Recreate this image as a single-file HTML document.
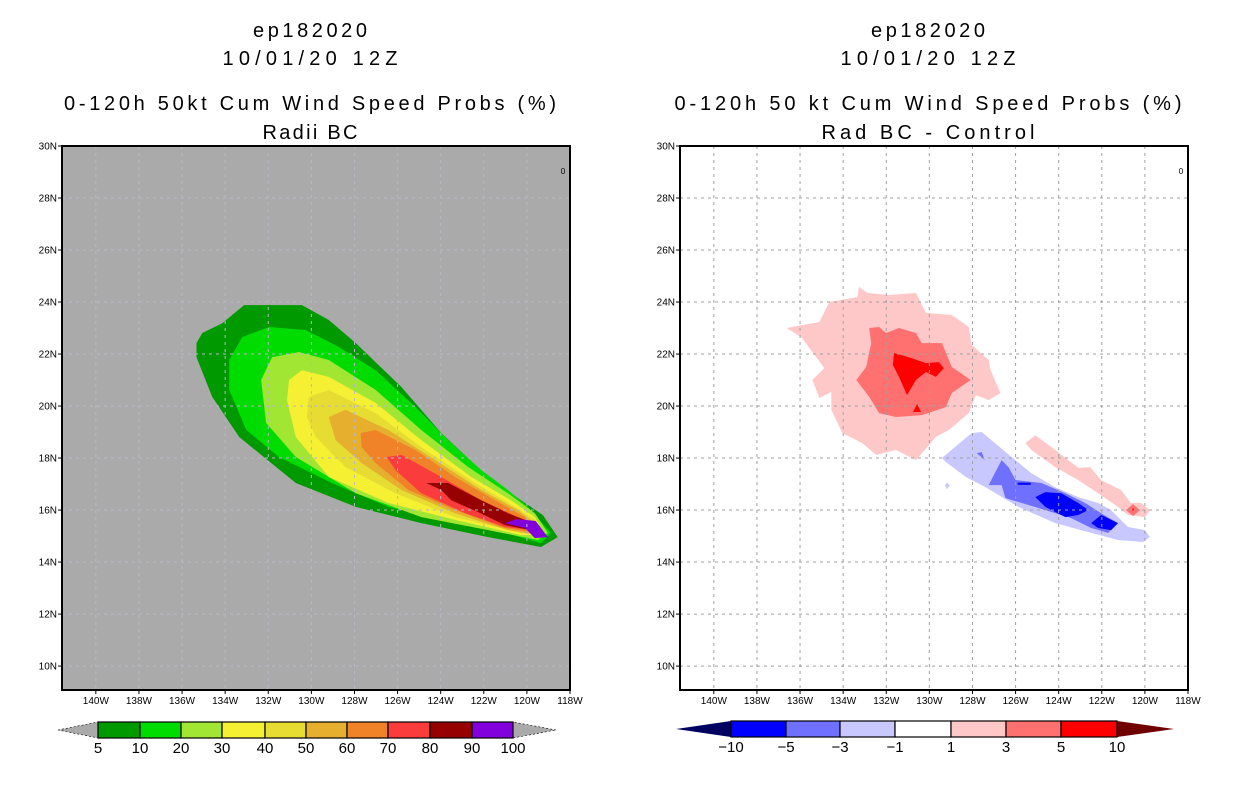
<!DOCTYPE html>
<html><head><meta charset="utf-8"><style>
body{margin:0;background:#fff;width:1236px;height:800px;overflow:hidden}
svg{font-family:"Liberation Sans",sans-serif}
</style></head><body>
<svg id="s" width="1236" height="800" xmlns="http://www.w3.org/2000/svg"></svg>
<script>
const NS="http://www.w3.org/2000/svg";
const svg=document.getElementById('s');
// axis domain
const lonWest=141.57, lonEast=118, latTop=30, latBot=9.08;
const latTicks=[30,28,26,24,22,20,18,16,14,12,10];
const lonTicks=[140,138,136,134,132,130,128,126,124,122,120,118];
// left panel: probability contours (levels 5..90), polygons as [lonW,lat]
const probLevels=[5,10,20,30,40,50,60,70,80,90,100];
const probColors=["#009a00","#00dc00","#a0e632","#f5f032","#e6dc32","#e6af2d","#f08228","#fa3c3c","#960000","#8200dc"];
const prob5=[[135.33,22.42],[135.06,22.81],[134.13,23.19],[133.12,23.88],[130.44,23.88],[129.19,23.31],[127.94,22.42],[125.82,20.73],[123.97,18.96],[121.8,17.27],[120.28,16.38],[119.26,15.81],[118.57,14.96],[119.35,14.58],[121.8,14.96],[124.9,15.5],[127.94,16.12],[130.72,17.04],[133.35,18.81],[134.6,20.35],[135.33,21.88]];
const prob10=[[133.81,21.77],[133.21,22.65],[131.96,23.04],[130.25,22.92],[128.73,22.27],[127.02,21.38],[125.17,19.96],[123.65,18.69],[122.12,17.54],[120.88,16.77],[119.95,16.12],[118.89,15.12],[119.35,14.73],[121.02,15.12],[123.33,15.5],[126.42,16.12],[129.05,17.04],[131.5,18.04],[133.02,19.08],[133.81,20.62]];
const prob20=[[132.33,21.0],[131.82,21.88],[130.58,22.08],[129.19,21.77],[127.02,20.62],[124.9,19.08],[122.72,17.65],[120.88,16.65],[119.63,15.88],[119.03,15.12],[119.49,14.85],[121.8,15.23],[124.9,15.73],[127.94,16.65],[130.72,18.04],[132.1,19.35]];
const prob30=[[131.04,21.0],[130.44,21.38],[129.19,21.12],[127.02,20.12],[124.9,18.69],[122.58,17.27],[120.74,16.38],[119.63,15.73],[119.17,15.04],[120.28,15.04],[123.33,15.62],[126.42,16.27],[129.19,17.27],[130.72,18.81],[131.13,20.23]];
const prob40=[[130.12,20.35],[129.19,20.62],[127.02,19.73],[124.9,18.42],[122.4,17.04],[120.55,16.12],[119.63,15.62],[119.35,15.04],[120.28,15.12],[123.33,15.73],[126.1,16.65],[128.41,17.65],[129.79,18.81],[130.21,19.58]];
const prob50=[[129.19,19.58],[128.41,19.85],[126.42,19.08],[124.25,17.92],[122.12,16.77],[120.42,16.0],[119.63,15.5],[119.49,15.04],[120.88,15.23],[123.33,15.88],[125.82,16.77],[127.67,17.81],[128.87,18.69]];
const prob60=[[127.71,18.96],[127.02,19.08],[125.17,18.31],[123.33,17.27],[121.48,16.38],[120.09,15.73],[119.63,15.12],[121.02,15.31],[123.33,16.0],[125.5,16.77],[127.02,17.81],[127.67,18.42]];
const prob70=[[126.51,18.04],[125.82,18.12],[123.97,17.27],[122.12,16.38],[120.42,15.73],[119.82,15.23],[121.02,15.35],[122.86,15.88],[124.9,16.65],[126.1,17.54]];
const prob80=[[124.67,17.04],[123.65,17.04],[122.12,16.38],[120.88,15.88],[120.09,15.62],[119.82,15.23],[121.02,15.42],[122.26,15.92],[123.51,16.38],[123.97,16.77]];
const prob90=[[120.09,15.62],[119.59,15.58],[119.03,14.96],[119.63,14.92],[120.09,15.31],[121.02,15.5],[120.51,15.65]];
const probPolys=[prob5,prob10,prob20,prob30,prob40,prob50,prob60,prob70,prob80,prob90];
// right panel: difference contours
const diffLevels=["-10","-5","-3","-1","1","3","5","10"];
const diffColors=["#0000ff","#7070ff","#c8c8ff","#ffffff","#ffc8c8","#ff7070","#ff0000"];
const diffPink1=[[136.63,23.0],[135.1,23.23],[134.64,24.0],[133.35,24.19],[133.26,24.58],[132.89,24.35],[131.87,24.27],[130.62,24.35],[130.16,23.58],[128.96,23.5],[128.17,23.04],[128.04,22.35],[127.25,21.77],[127.16,21.38],[126.7,20.5],[127.25,20.23],[127.85,20.42],[128.17,19.73],[129.1,19.08],[129.7,18.81],[130.62,17.92],[131.55,18.31],[132.47,18.12],[133.12,18.58],[134.04,18.96],[134.55,19.85],[134.55,20.54],[135.1,20.31],[135.43,21.0],[134.87,21.46],[135.94,22.65]];
const diffPink2=[[125.54,18.58],[125.08,18.88],[124.16,18.31],[123.09,17.62],[122.54,17.65],[122.03,17.15],[121.11,16.77],[120.65,16.27],[120.18,16.27],[119.77,16.0],[120.0,15.73],[120.79,15.81],[121.25,16.12],[122.17,16.65],[123.09,17.15],[124.16,17.65],[125.27,18.31]];
const diffRed1=[[132.79,23.0],[132.33,23.04],[132.01,22.81],[131.41,23.0],[130.62,22.81],[130.35,22.42],[129.42,22.42],[128.96,21.5],[128.08,21.0],[128.96,20.5],[129.24,19.96],[130.35,19.65],[131.55,19.58],[132.33,19.73],[132.79,20.35],[133.39,21.0],[132.93,21.5],[132.7,22.42]];
const diffRed2=[[120.88,16.0],[120.55,16.23],[120.23,16.0],[120.55,15.77]];
const diffBright1=[[131.64,22.04],[130.95,21.88],[130.16,21.65],[129.56,21.69],[129.33,21.46],[129.7,21.12],[130.16,21.31],[130.62,21.0],[131.04,20.42],[131.41,21.12],[131.69,21.58]];
const diffBright2=[[130.57,20.08],[130.39,19.77],[130.76,19.77]];
const diffBright3=[[120.6,16.05],[120.5,16.05],[120.55,15.95]];
const diffBlue1=[[129.42,18.0],[128.04,18.96],[127.57,19.0],[126.19,18.04],[125.27,17.42],[124.16,16.88],[123.09,16.5],[122.17,16.27],[121.57,16.0],[120.79,15.35],[120.0,15.23],[119.77,14.96],[120.09,14.77],[121.25,14.85],[122.49,15.12],[124.16,15.5],[125.87,16.12],[127.39,16.88],[128.31,17.27],[129.24,17.85]];
const diffBlue1b=[[129.18,17.05],[129.05,16.95],[129.18,16.8],[129.28,16.95]];
const diffBlue2=[[127.25,16.96],[126.65,17.92],[126.33,17.65],[126.0,17.15],[124.8,17.04],[123.69,16.65],[122.77,16.27],[122.03,15.88],[121.25,15.5],[121.71,15.12],[122.49,15.31],[123.42,15.69],[124.94,16.08],[126.47,16.46],[126.65,16.96]];
const diffBlue2b=[[127.8,18.19],[127.57,18.23],[127.43,17.92]];
const diffBlue3a=[[125.08,16.5],[124.62,16.69],[123.88,16.65],[123.09,16.27],[122.63,16.0],[123.09,15.81],[123.69,15.73],[124.62,16.12]];
const diffBlue3b=[[122.49,15.5],[122.03,15.81],[121.25,15.5],[121.57,15.23],[122.17,15.31]];
const diffBlue3c=[[125.9,17.05],[125.3,17.05],[125.3,16.97],[125.9,16.97]];
const diffShapes=[[diffPink1,4],[diffPink2,4],[diffRed1,5],[diffRed2,5],[diffBright1,6],[diffBright2,6],[diffBright3,6],[diffBlue1,2],[diffBlue1b,2],[diffBlue2,1],[diffBlue2b,1],[diffBlue3a,0],[diffBlue3b,0],[diffBlue3c,0]];

function el(tag,attrs,parent){const e=document.createElementNS(NS,tag);for(const k in attrs)e.setAttribute(k,attrs[k]);(parent||svg).appendChild(e);return e;}
function txt(x,y,s,size,anchor,parent){const t=el('text',{x:x,y:y,'font-size':size,'text-anchor':anchor||'middle',fill:'#000'},parent);t.textContent=s;return t;}

function panel(x0,name,bg,titles,widths,drawFn){
  const x1=x0+508,y0=146,y1=690;
  const X=lon=>x0+(lonWest-lon)/(lonWest-lonEast)*(x1-x0);
  const Y=lat=>y0+(latTop-lat)/(latTop-latBot)*(y1-y0);
  const g=el('g',{});
  
  
  const cx=x0+248;
  titles.forEach((t,i)=>{const e=txt(cx,[37,65,110,139][i],t,20,'middle',g);
    e.setAttribute('textLength',widths[i]);
    e.setAttribute('lengthAdjust','spacing');
    
    });
  const bgr=el('rect',{x:x0,y:y0,width:x1-x0,height:y1-y0,fill:bg},g);
  
  
  drawFn(g,X,Y);
  lonTicks.forEach(l=>{if(l>118){const ln=el('line',{x1:X(l),x2:X(l),y1:y0,y2:y1,stroke:bg=='#fff'?'#a0a0a0':'#b8b8c4','stroke-dasharray':'3,4','stroke-width':1},g);
    
    }});
  latTicks.forEach(l=>{if(l<30){const ln=el('line',{x1:x0,x2:x1,y1:Y(l),y2:Y(l),stroke:bg=='#fff'?'#a0a0a0':'#b8b8c4','stroke-dasharray':'3,4','stroke-width':1},g);
    
    }});
  const fr=el('rect',{x:x0,y:y0,width:x1-x0,height:y1-y0,fill:'none',stroke:'#000','stroke-width':2},g);
  
  
  latTicks.forEach(l=>{el('line',{x1:x0-4,x2:x0,y1:Y(l),y2:Y(l),stroke:'#000'},g);
    const t=txt(x0-5,Y(l)+3.5,l+'N',10,'end',g);
    
    });
  lonTicks.forEach(l=>{el('line',{x1:X(l),x2:X(l),y1:y1,y2:y1+4,stroke:'#000'},g);
    const t=txt(X(l),y1+14,l+'W',10,'middle',g);
    
    });
  const z=txt(x1-7,y0+28,'0',8,'middle',g);
  
  
}
function poly(g,X,Y,pts,color,name){
  const p=el('polygon',{points:pts.map(q=>X(q[0]).toFixed(1)+','+Y(q[1]).toFixed(1)).join(' '),fill:color},g);
  
  
}
panel(62,'left-map','#aaaaaa',['ep182020','10/01/20 12Z','0-120h 50kt Cum Wind Speed Probs (%)','Radii BC'],[114,175,492,95],(g,X,Y)=>{
  probPolys.forEach((pp,i)=>poly(g,X,Y,pp,probColors[i],'prob-contour-'+probLevels[i]));
});
panel(680,'right-map','#fff',['ep182020','10/01/20 12Z','0-120h 50 kt Cum Wind Speed Probs (%)','Rad BC - Control'],[114,175,507,213],(g,X,Y)=>{
  diffShapes.forEach(s=>poly(g,X,Y,s[0],diffColors[s[1]],'diff-contour'));
});
function colorbar(name,xl,edges,colors,labels,yT,yB,leftC,rightC){
  const g=el('g',{});
  
  
  const ym=(yT+yB)/2;
  const x0=edges[0],x1=edges[edges.length-1];
  const lt=el('polygon',{points:`${xl[0]},${ym} ${x0},${yT} ${x0},${yB}`,fill:leftC,stroke:leftC=='#aaaaaa'?'#000':'none','stroke-dasharray':'2,2','stroke-width':0.6},g);
  
  
  const rt=el('polygon',{points:`${xl[1]},${ym} ${x1},${yT} ${x1},${yB}`,fill:rightC,stroke:rightC=='#aaaaaa'?'#000':'none','stroke-dasharray':'2,2','stroke-width':0.6},g);
  
  
  colors.forEach((c,i)=>{const r=el('rect',{x:edges[i],y:yT,width:edges[i+1]-edges[i],height:yB-yT,fill:c,stroke:'#000','stroke-width':1.2},g);
    
    });
  labels.forEach((l,i)=>{const t=txt(edges[i],yB+15,l.replace('-','\u2212'),15,'middle',g);
    
    });
}
colorbar('prob-colorbar',[58,556],[98,140,181,222,265,306,347,388,430,472,513],probColors,probLevels.map(String),722,738,'#aaaaaa','#aaaaaa');
colorbar('diff-colorbar',[676,1174],[731,786,840,895,951,1006,1061,1117],diffColors,diffLevels,721,737,'#000060','#700000');
</script>
</body></html>
